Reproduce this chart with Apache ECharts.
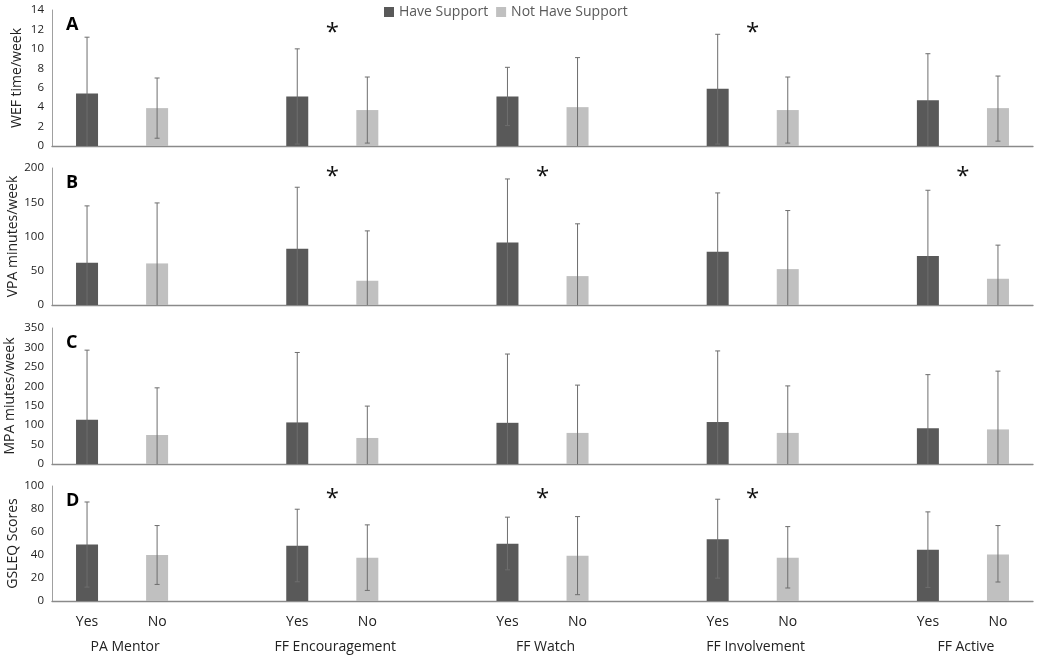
<!DOCTYPE html>
<html>
<head>
<meta charset="utf-8">
<script src="https://cdn.jsdelivr.net/npm/echarts@6/dist/echarts.min.js"></script>
<style>
html,body{margin:0;padding:0;background:#fff;}
#chart{width:1041px;height:656px;}
</style>
</head>
<body>
<div id="chart"></div>
<script>
// ---- DATA ----
const slotLabels = ['Yes','No','','Yes','No','','Yes','No','','Yes','No','','Yes','No'];
const groups = ['PA Mentor','FF Encouragement','FF Watch','FF Involvement','FF Active'];

const wefHave     = [5.4, 5.1, 5.1, 5.9, 4.7];
const wefHaveHigh = [11.2, 10.0, 8.1, 11.5, 9.5];
const wefHaveLow  = [0, 0.2, 2.1, 0.2, 0];
const wefNot      = [3.9, 3.7, 4.0, 3.7, 3.9];
const wefNotHigh  = [7.0, 7.1, 9.1, 7.1, 7.2];
const wefNotLow   = [0.8, 0.3, 0, 0.3, 0.5];

const vpaHave     = [61.6, 82, 91.3, 77.7, 71.4];
const vpaHaveHigh = [144.7, 171.9, 184, 163.6, 167.5];
const vpaHaveLow  = [0, 0, 0, 0, 0];
const vpaNot      = [60.7, 35.4, 42.2, 52.4, 38.3];
const vpaNotHigh  = [149, 108.2, 118.5, 137.9, 87.4];
const vpaNotLow   = [0, 0, 0, 0, 0];

const mpaHave     = [114, 107, 106, 108, 92];
const mpaHaveHigh = [293, 287, 283, 291, 230];
const mpaHaveLow  = [0, 0, 0, 0, 0];
const mpaNot      = [74.6, 67, 80, 80, 89];
const mpaNotHigh  = [196, 149, 203, 201, 239];
const mpaNotLow   = [0, 0, 0, 0, 0];

const gsHave      = [49.1, 48, 49.7, 53.8, 44.5];
const gsHaveHigh  = [86.1, 79.8, 72.9, 88.5, 77.5];
const gsHaveLow   = [12.1, 16.7, 27.1, 19.9, 11.8];
const gsNot       = [39.9, 37.6, 39.3, 37.6, 40.4];
const gsNotHigh   = [65.6, 66.2, 73.4, 64.7, 65.6];
const gsNotLow    = [14.4, 9.2, 5.5, 11.3, 16.5];

// significance markers: group index, and the level they sit at
const wefStars = [1, 3];   const wefStarLevel = 12;
const vpaStars = [1, 2, 4]; const vpaStarLevel = 192;
const mpaStars = [];        const mpaStarLevel = 0;
const gsStars  = [1, 2, 3]; const gsStarLevel = 92;

const yNames   = ['WEF time/week', 'VPA minutes/week', 'MPA miutes/week', 'GSLEQ Scores'];
const yMax     = [14, 200, 350, 100];
const yStep    = [2, 50, 50, 20];
const letters  = ['A', 'B', 'C', 'D'];

// ---- BUILD ----
const FONT = 'Open Sans';
const DARK = '#595959', LIGHT = '#c0c0c0', ERR = '#6e6e6e';
const nameGaps = [28, 32, 35, 32];

const panels = [
  {have: wefHave, hh: wefHaveHigh, hl: wefHaveLow, not: wefNot, nh: wefNotHigh, nl: wefNotLow, stars: wefStars, lvl: wefStarLevel},
  {have: vpaHave, hh: vpaHaveHigh, hl: vpaHaveLow, not: vpaNot, nh: vpaNotHigh, nl: vpaNotLow, stars: vpaStars, lvl: vpaStarLevel},
  {have: mpaHave, hh: mpaHaveHigh, hl: mpaHaveLow, not: mpaNot, nh: mpaNotHigh, nl: mpaNotLow, stars: mpaStars, lvl: mpaStarLevel},
  {have: gsHave, hh: gsHaveHigh, hl: gsHaveLow, not: gsNot, nh: gsNotHigh, nl: gsNotLow, stars: gsStars, lvl: gsStarLevel}
];

const gridBoxes = [
  {top: 10, height: 136},
  {top: 168, height: 137},
  {top: 328, height: 136},
  {top: 486, height: 115}
];

const grid = [], xAxis = [], yAxis = [], series = [], title = [];

function slotArray(vals, offset) {
  const arr = slotLabels.map(() => null);
  vals.forEach((v, g) => { arr[g * 3 + offset] = v; });
  return arr;
}

function errRender(params, api) {
  const x = api.value(0), lo = api.value(1), hi = api.value(2);
  const pH = api.coord([x, hi]);
  const pL = api.coord([x, lo]);
  const st = {stroke: ERR, lineWidth: 1};
  const ch = [
    {type: 'line', shape: {x1: pH[0], y1: pH[1], x2: pL[0], y2: pL[1]}, style: st},
    {type: 'line', shape: {x1: pH[0] - 2.5, y1: pH[1], x2: pH[0] + 2.5, y2: pH[1]}, style: st}
  ];
  if (lo > 0) ch.push({type: 'line', shape: {x1: pL[0] - 2.5, y1: pL[1], x2: pL[0] + 2.5, y2: pL[1]}, style: st});
  return {type: 'group', children: ch};
}

function starRender(params, api) {
  const g = api.value(0), lvl = api.value(1);
  const a = api.coord([g * 3, lvl]), b = api.coord([g * 3 + 1, lvl]);
  return {type: 'text', x: (a[0] + b[0]) / 2, y: a[1] + 4,
    style: {text: '*', fontSize: 24, fontFamily: FONT, fill: '#111', align: 'center', verticalAlign: 'middle'}};
}

function groupRender(params, api) {
  const g = api.value(0);
  const a = api.coord([g * 3, 0]), b = api.coord([g * 3 + 1, 0]);
  return {type: 'text', x: (a[0] + b[0]) / 2 + 3, y: a[1] + 46,
    style: {text: groups[g], fontSize: 14, fontFamily: FONT, fill: '#222', align: 'center', verticalAlign: 'middle'}};
}

panels.forEach((p, i) => {
  grid.push({left: 52, right: 8, top: gridBoxes[i].top, height: gridBoxes[i].height,
    containLabel: false, outerBoundsMode: 'none'});
  xAxis.push({
    type: 'category', gridIndex: i, data: slotLabels,
    axisTick: {show: false},
    axisLine: {lineStyle: {color: '#8a8a8a', width: 1.3}},
    axisLabel: {show: i === 3, fontSize: 14, fontFamily: FONT, color: '#222', margin: 14, interval: 0},
    splitLine: {show: false}
  });
  yAxis.push({
    type: 'value', gridIndex: i, min: 0, max: yMax[i], interval: yStep[i],
    name: yNames[i], nameLocation: 'middle', nameGap: nameGaps[i], nameMoveOverlap: false,
    nameTextStyle: {fontSize: 14, fontFamily: FONT, color: '#222'},
    axisLine: {show: true, lineStyle: {color: '#a0a0a0', width: 1}},
    axisTick: {show: false},
    axisLabel: {fontSize: 11.5, fontFamily: FONT, color: '#222', margin: 8},
    splitLine: {show: false}
  });
  title.push({text: letters[i], left: 61, top: gridBoxes[i].top + 1,
    textStyle: {fontSize: 18, fontWeight: 'bold', fontFamily: FONT, color: '#000'}});

  series.push({
    name: 'Have Support', type: 'bar', xAxisIndex: i, yAxisIndex: i,
    data: slotArray(p.have, 0), barWidth: 22, barGap: '-100%',
    itemStyle: {color: DARK}, silent: true
  });
  series.push({
    name: 'Not Have Support', type: 'bar', xAxisIndex: i, yAxisIndex: i,
    data: slotArray(p.not, 1), barWidth: 22, barGap: '-100%',
    itemStyle: {color: LIGHT}, silent: true
  });
  const errData = [];
  p.have.forEach((v, g) => errData.push([g * 3, p.hl[g], p.hh[g]]));
  p.not.forEach((v, g) => errData.push([g * 3 + 1, p.nl[g], p.nh[g]]));
  series.push({
    name: 'err' + i, type: 'custom', xAxisIndex: i, yAxisIndex: i,
    renderItem: errRender, data: errData, silent: true, z: 5
  });
  if (p.stars.length) {
    series.push({
      name: 'star' + i, type: 'custom', xAxisIndex: i, yAxisIndex: i,
      renderItem: starRender, data: p.stars.map(g => [g, p.lvl]), silent: true, z: 6
    });
  }
  if (i === 3) {
    series.push({
      name: 'groups', type: 'custom', xAxisIndex: i, yAxisIndex: i,
      renderItem: groupRender, data: groups.map((g, k) => [k, 0]), silent: true, z: 6
    });
  }
});

const chart = echarts.init(document.getElementById('chart'));
chart.setOption({
  animation: false,
  backgroundColor: '#fff',
  title: title,
  legend: {
    data: ['Have Support', 'Not Have Support'],
    left: 379, top: 0, icon: 'rect', itemWidth: 10, itemHeight: 10, itemGap: 8,
    textStyle: {fontSize: 14, fontFamily: FONT, color: '#595959'}
  },
  grid: grid, xAxis: xAxis, yAxis: yAxis, series: series
});
</script>
</body>
</html>
